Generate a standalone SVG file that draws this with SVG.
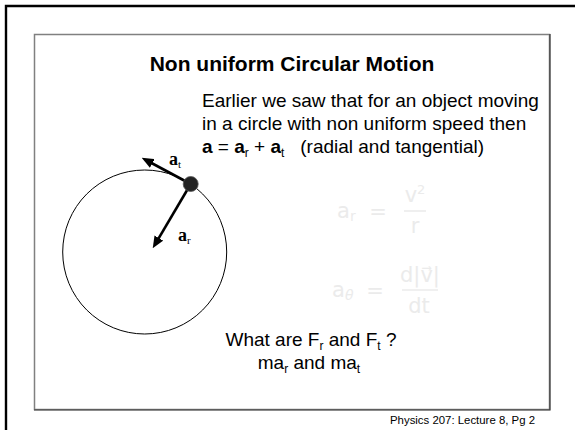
<svg xmlns="http://www.w3.org/2000/svg" width="575" height="430" viewBox="0 0 575 430">
<style>
.t{font-family:"Liberation Sans",Arial,sans-serif;fill:#000}
.title{font-size:21px;font-weight:bold}
.body{font-size:19px}
.sub{font-size:12px}
.lbl{font-family:"Liberation Serif","Times New Roman",serif;font-weight:bold;font-size:18px;fill:#000}
.lsub{font-size:11px;font-weight:normal}
.f{font-family:"DejaVu Sans","Liberation Sans",sans-serif;fill:#ebebeb;font-size:21px}
.vec{stroke:#000;stroke-width:2.6;fill:none}
</style>
<defs>
<marker id="ah" markerUnits="userSpaceOnUse" markerWidth="12" markerHeight="10" viewBox="0 0 12 10" refX="3" refY="5" orient="auto">
<path d="M0,0 L12,5 L0,10 z" fill="#000"/>
</marker>
</defs>
<rect width="575" height="430" fill="#fff"/>
<g id="frame">
<path d="M6,430 V6 H575" fill="none" stroke="#000" stroke-width="2.4"/>
<rect x="34.5" y="34.5" width="515" height="375" fill="none" stroke="#808080" stroke-width="1.5"/>
<path d="M34,410 H550 V34" fill="none" stroke="#3a3a3a" stroke-width="1.2"/>
</g>
<g id="title"><text class="t title" x="292" y="71" text-anchor="middle">Non uniform Circular Motion</text></g>
<g id="text">
<text class="t body" x="202" y="107">Earlier we saw that for an object moving</text>
<text class="t body" x="202" y="130">in a circle with non uniform speed then</text>
<text class="t body" x="202" y="153" xml:space="preserve"><tspan font-weight="bold">a</tspan> = <tspan font-weight="bold">a</tspan><tspan class="sub" dy="4">r</tspan><tspan dy="-4"> + </tspan><tspan font-weight="bold">a</tspan><tspan class="sub" dy="4">t</tspan><tspan dy="-4">   (radial and tangential)</tspan></text>
</g>
<g id="formulas">
<text class="f" x="337" y="218">a<tspan font-size="14" dy="3">r</tspan></text>
<text class="f" x="378" y="219" text-anchor="middle">=</text>
<text class="f" x="415" y="202" text-anchor="middle">v<tspan font-size="13" dy="-8">2</tspan></text>
<line x1="404" y1="211" x2="426" y2="211" stroke="#ebebeb" stroke-width="1.6"/>
<text class="f" x="415" y="233" text-anchor="middle">r</text>
<text class="f" x="332" y="297">a<tspan font-size="14" font-style="italic" dy="3">θ</tspan></text>
<text class="f" x="375" y="298" text-anchor="middle">=</text>
<text class="f" x="420" y="282" text-anchor="middle">d|v⃗|</text>
<line x1="402" y1="290" x2="438" y2="290" stroke="#ebebeb" stroke-width="1.6"/>
<text class="f" x="419" y="313" text-anchor="middle">dt</text>
</g>
<g id="circle"><circle cx="144.7" cy="252" r="82" fill="none" stroke="#000" stroke-width="1"/></g>
<g id="connectors">
<line class="vec" x1="190.7" y1="184" x2="157.3" y2="240.6" marker-end="url(#ah)"/>
<line class="vec" x1="190.7" y1="184" x2="149.6" y2="162" marker-end="url(#ah)"/>
</g>
<g id="object"><circle cx="190.7" cy="184" r="7.5" fill="#222" stroke="#555" stroke-width="0.8"/></g>
<g id="label-ar"><text class="lbl" x="178" y="241">a<tspan class="lsub" dy="3">r</tspan></text></g>
<g id="label-at"><text class="lbl" x="169" y="165">a<tspan class="lsub" dy="3">t</tspan></text></g>
<g id="question">
<text class="t body" x="311" y="346" text-anchor="middle" xml:space="preserve">What are F<tspan class="sub" dy="4">r</tspan><tspan dy="-4"> and F</tspan><tspan class="sub" dy="4">t</tspan><tspan dy="-4"> ?</tspan></text>
<text class="t body" x="309" y="369" text-anchor="middle">ma<tspan class="sub" dy="4">r</tspan><tspan dy="-4"> and ma</tspan><tspan class="sub" dy="4">t</tspan></text>
</g>
<g id="footer"><text class="t" x="390" y="424" font-size="11.4">Physics 207: Lecture 8, Pg 2</text></g>
</svg>
